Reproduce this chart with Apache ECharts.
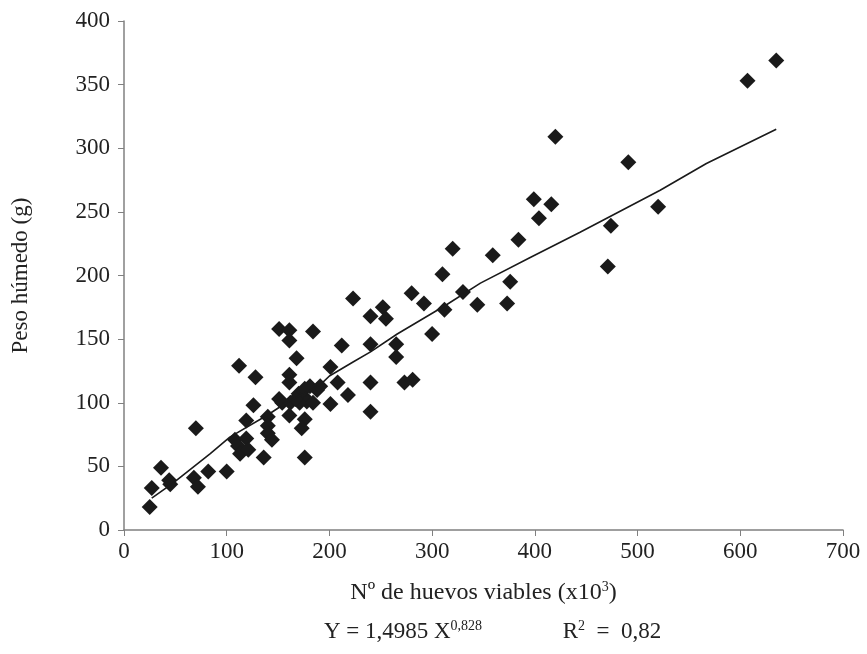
<!DOCTYPE html>
<html><head><meta charset="utf-8">
<script src="https://cdn.jsdelivr.net/npm/echarts@6/dist/echarts.min.js"></script>
<style>html,body{margin:0;padding:0;background:#fff}#c{width:867px;height:654px}</style>
</head><body><div id="c"></div>
<script>
var huevos = [25,27,36,44,45,70,68,72,82,100,108,111,113,112,119,121,119,126,128,136,140,140,140,144,151,151,161,161,161,161,161,154,162,168,176,173,176,184,170,175,178,171,167,181,188,184,201,201,208,212,218,223,240,240,240,240,252,255,265,265,273,281,280,292,300,310,312,320,330,344,359,373,376,384,399,404,416,420,471,474,491,520,607,635,176,191];
var peso = [18,33,49,39,36,80,41,34,46,46,71,66,60,129,72,63,86,98,120,57,89,82,76,71,103,158,157,149,122,116,90,100,100,135,87,80,57,156,107,105,101,100,103,113,110,100,99,128,116,145,106,182,168,146,116,93,175,166,146,136,116,118,186,178,154,201,173,221,187,177,216,178,195,228,260,245,256,309,207,239,289,254,353,369,111,113];
var tendX = [27,48,84,103,139,158,191,200,223,240,266,314,347,395,444,522,567,635];
var tendY = [25,37,60,73,90,100,114,121,132,140,154,177,194,214,234,267,288,315];
var xTicks = [0,100,200,300,400,500,600,700];
var yTicks = [0,50,100,150,200,250,300,350,400];

var pts = huevos.map(function(v,i){return [v,peso[i]];});
var line = tendX.map(function(v,i){return [v,tendY[i]];});
var font = '"Liberation Serif", "Times New Roman", serif';
var chart = echarts.init(document.getElementById('c'), null, {renderer:'canvas'});
chart.setOption({
  animation:false,
  backgroundColor:'#fff',
  grid:{left:124,right:24,top:21,bottom:124,containLabel:false},
  xAxis:{type:'value',min:xTicks[0],max:xTicks[xTicks.length-1],interval:100,
    axisLine:{show:true,lineStyle:{color:'#808080',width:1.5}},
    axisTick:{show:true,length:6,lineStyle:{color:'#808080'}},
    axisLabel:{color:'#222',fontFamily:font,fontSize:23,margin:10},
    splitLine:{show:false},
    name:'{a|Nº de huevos viables (x10}{s|3}{a|)}',nameLocation:'middle',nameGap:50,
    nameTextStyle:{rich:{a:{fontFamily:font,fontSize:24,color:'#222'},s:{fontFamily:font,fontSize:14,color:'#222',verticalAlign:'top',padding:[0,0,12,0]}}}
  },
  yAxis:{type:'value',min:yTicks[0],max:yTicks[yTicks.length-1],interval:50,
    axisLine:{show:true,lineStyle:{color:'#808080',width:1.5}},
    axisTick:{show:true,length:6,lineStyle:{color:'#808080'}},
    axisLabel:{color:'#222',fontFamily:font,fontSize:23,margin:14},
    splitLine:{show:false},
    name:'Peso húmedo (g)',nameLocation:'middle',nameGap:92,
    nameTextStyle:{fontFamily:font,fontSize:23,color:'#222'}
  },
  series:[
    {type:'scatter',data:pts,symbol:'diamond',symbolSize:16,itemStyle:{color:'#1a1a1a',opacity:1},z:3},
    {type:'line',data:line,symbol:'none',smooth:false,lineStyle:{color:'#1a1a1a',width:1.6},z:4}
  ],
  graphic:[
    {type:'text',x:403,y:632,style:{align:'center',verticalAlign:'middle',rich:{a:{fontFamily:font,fontSize:23,fill:'#222'},s:{fontFamily:font,fontSize:14,fill:'#222',verticalAlign:'top',padding:[0,0,12,0]}},text:'{a|Y = 1,4985 X}{s|0,828}',fill:'#222'}},
    {type:'text',x:612,y:632,style:{align:'center',verticalAlign:'middle',rich:{a:{fontFamily:font,fontSize:23,fill:'#222'},s:{fontFamily:font,fontSize:14,fill:'#222',verticalAlign:'top',padding:[0,0,12,0]}},text:'{a|R}{s|2}{a|  =  0,82}',fill:'#222'}}
  ]
});
</script></body></html>
